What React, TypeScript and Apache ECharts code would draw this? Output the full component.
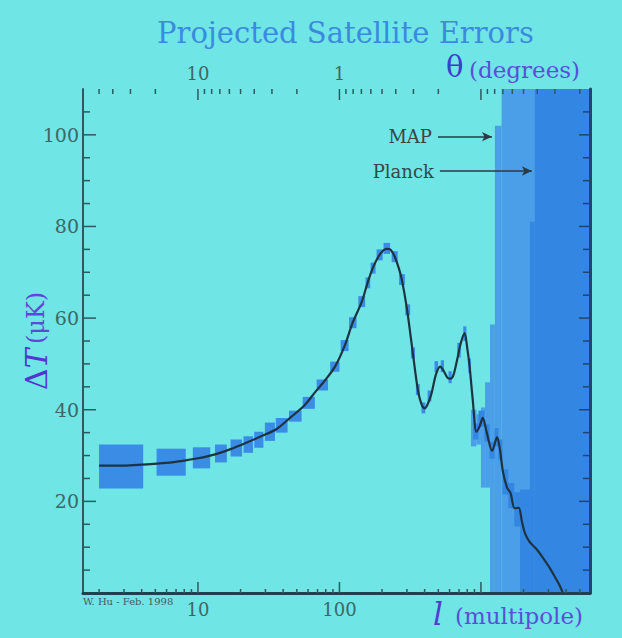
import React, { useEffect, useRef } from 'react';
import * as echarts from 'echarts';

const FONT = '"DejaVu Serif", serif';

// axis extents (multipole l on a log axis, ΔT in μK)
const X_MIN = 1.54;
const X_MAX = 5900;
const Y_MIN = 0;
const Y_MAX = 110;

// theoretical curve
const CURVE_L = [2, 3, 4, 6, 8, 10, 13, 17, 22, 28, 36, 45, 56, 68, 80, 93, 109, 124, 144, 158, 172, 190, 205, 216, 228, 246, 262, 276, 300, 330, 358, 380, 400, 420, 447, 480, 515, 545, 580, 610, 640, 680, 720, 767, 800, 832, 875, 930, 980, 1030, 1100, 1200, 1300, 1360, 1430, 1530, 1620, 1730, 1850, 1950, 2050, 2200, 2450, 2700, 2900, 3100, 3320, 3550, 3800];
const CURVE_T = [27.8, 27.8, 28.0, 28.4, 28.9, 29.4, 30.2, 31.4, 32.8, 34.2, 35.8, 38.3, 40.8, 44.0, 46.6, 49.4, 54.0, 59.0, 63.6, 67.7, 70.9, 73.6, 74.8, 75.1, 75.0, 73.4, 71.0, 68.4, 62.0, 52.4, 44.4, 41.2, 40.3, 41.2, 43.5, 47.6, 49.4, 48.5, 47.0, 46.8, 47.6, 51.0, 54.5, 56.7, 53.5, 49.4, 42.2, 35.2, 36.4, 38.2, 35.0, 31.0, 34.0, 31.5, 26.5, 23.0, 21.8, 18.5, 18.6, 15.5, 13.0, 11.2, 9.7, 8.0, 6.6, 5.2, 3.6, 2.0, 0];

// error boxes: [l start, l end, ΔT low, ΔT high]
const SHARED_BOXES = [
  [2, 4.1, 22.8, 32.4],
  [5.1, 8.2, 25.6, 31.5],
  [9.2, 12.2, 27.2, 31.8],
  [13.2, 16, 28.5, 32.4],
  [17, 20.5, 29.8, 33.5],
  [21, 24.5, 30.6, 34.2],
  [25, 29, 31.7, 35.2],
  [29.7, 35, 33.2, 37.2],
  [35.5, 43, 35.0, 38.2],
  [44, 54, 37.4, 39.8],
  [55, 67, 40.2, 42.8],
  [69, 83, 44.2, 46.6],
  [86, 100, 48.3, 50.5],
  [102, 116, 52.8, 55.2],
  [117, 132, 57.8, 60.2],
  [136, 152, 62.4, 64.8],
  [153, 165, 66.5, 68.9],
  [166, 180, 69.7, 72.1],
  [183, 202, 72.6, 75.0],
  [205, 228, 74.0, 76.4],
  [234, 258, 72.2, 74.6],
  [264, 290, 67.2, 69.6],
  [292, 316, 60.6, 63.0],
  [320, 342, 51.2, 53.6],
  [347, 370, 43.2, 45.6],
  [380, 404, 39.2, 41.6],
  [420, 446, 41.8, 44.2],
  [470, 498, 48.2, 50.6],
  [520, 548, 48.2, 50.8],
  [590, 622, 45.8, 48.4],
  [680, 720, 51.4, 54.6],
  [750, 790, 55.0, 58.2],
  [815, 850, 48.0, 51.2],
];
const MAP_BOXES = [
  [850, 930, 32.0, 40.0],
  [930, 1000, 32.4, 39.0],
  [1000, 1070, 23.0, 40.5],
  [1070, 1160, 23.0, 46.0],
  [1160, 1255, 0, 58.6],
  [1255, 1400, 0, 102],
  [1400, 6000, 0, 300],
];
const PLANCK_BOXES = [
  [880, 960, 33.5, 37.0],
  [960, 1060, 36.3, 39.8],
  [1060, 1150, 33.0, 36.8],
  [1150, 1250, 29.3, 33.0],
  [1250, 1330, 32.0, 36.0],
  [1330, 1420, 29.0, 33.5],
  [1420, 1560, 21.5, 27.0],
  [1560, 1720, 18.5, 24.0],
  [1720, 1890, 14.5, 22.0],
  [1890, 2220, 0, 22.6],
  [2220, 2400, 0, 81],
  [2400, 6000, 0, 300],
];

// arrows pointing at the MAP / Planck error regions
const ARROW_NAMES = ['MAP', 'Planck'];
const ARROW_FROM = [497, 513];
const ARROW_TO = [1197, 2290];
const ARROW_Y = [99.6, 92.1];

// ticks and labels
const L_TICKS = [2, 3, 4, 5, 6, 7, 8, 9, 10, 20, 30, 40, 50, 60, 70, 80, 90, 100, 200, 300, 400, 500, 600, 700, 800, 900, 1000, 2000, 3000, 4000, 5000];
const L_MAJOR = [10, 100, 1000];
const L_LABELS = [10, 100];
const THETA_TICKS = [50, 40, 30, 20, 10, 9, 8, 7, 6, 5, 4, 3, 2, 1, 0.9, 0.8, 0.7, 0.6, 0.5, 0.4, 0.3, 0.2, 0.1, 0.09, 0.08, 0.07, 0.06, 0.05, 0.04, 0.03, 0.02];
const THETA_MAJOR = [10, 1, 0.1];
const THETA_LABELS = [10, 1];
const Y_TICKS = [5, 10, 15, 20, 25, 30, 35, 40, 45, 50, 55, 60, 65, 70, 75, 80, 85, 90, 95, 100, 105];
const Y_MAJOR = [20, 40, 60, 80, 100];

const near = (a: number, b: number) => Math.abs(a / b - 1) < 1e-6;

function boxSeries(name: string, data: number[][], color: string, z: number) {
  return {
    type: 'custom',
    name,
    silent: true,
    clip: true,
    z,
    xAxisIndex: 0,
    yAxisIndex: 0,
    data,
    encode: { x: [0, 1], y: [2, 3] },
    renderItem: (params: any, api: any) => {
      const p1 = api.coord([api.value(0), api.value(2)]);
      const p2 = api.coord([api.value(1), api.value(3)]);
      return {
        type: 'rect',
        shape: { x: p1[0], y: p2[1], width: p2[0] - p1[0], height: p1[1] - p2[1] },
        style: { fill: color },
      };
    },
  };
}

function tickSeries(values: number[], majors: number[], side: string, majorLen: number, minorLen: number, color: string) {
  return {
    type: 'custom',
    silent: true,
    clip: false,
    z: 6,
    xAxisIndex: 0,
    yAxisIndex: 0,
    data: values.map((v) => [v, majors.some((m) => near(m, v)) ? 1 : 0]),
    renderItem: (params: any, api: any) => {
      const cs = params.coordSys;
      const v = api.value(0);
      const len = api.value(1) === 1 ? majorLen : minorLen;
      let shape;
      if (side === 'bottom') {
        const x = api.coord([v, Y_MIN])[0];
        const y = cs.y + cs.height;
        shape = { x1: x, y1: y, x2: x, y2: y - len };
      } else if (side === 'top') {
        const x = api.coord([100 / v, Y_MIN])[0];
        const y = cs.y;
        shape = { x1: x, y1: y, x2: x, y2: y + len };
      } else if (side === 'left') {
        const y = api.coord([10, v])[1];
        const x = cs.x;
        shape = { x1: x, y1: y, x2: x + len, y2: y };
      } else {
        const y = api.coord([10, v])[1];
        const x = cs.x + cs.width;
        shape = { x1: x, y1: y, x2: x - len, y2: y };
      }
      return { type: 'line', shape, style: { stroke: color, lineWidth: 1.5 } };
    },
  };
}

const tickLabelStyle = { color: '#3d6767', fontFamily: FONT, fontSize: 18 };

const option: any = {
  animation: false,
  backgroundColor: '#6fe5e6',
  title: {
    text: 'Projected Satellite Errors',
    left: 152,
    top: 13,
    textStyle: { fontFamily: FONT, fontSize: 29, fontWeight: 'normal', color: '#3a8bde' },
  },
  grid: { left: 83, right: 32, top: 89, bottom: 45, containLabel: false, outerBoundsMode: 'none' },
  xAxis: [
    {
      type: 'log',
      logBase: 10,
      min: X_MIN,
      max: X_MAX,
      position: 'bottom',
      z: 5,
      axisLine: { show: true, lineStyle: { color: '#29535a', width: 2 } },
      axisTick: { show: false },
      minorTick: { show: false },
      splitLine: { show: false },
      axisLabel: {
        ...tickLabelStyle,
        margin: 7,
        formatter: (v: number) => {
          const t = L_LABELS.find((x) => near(x, v));
          return t !== undefined ? String(t) : '';
        },
      },
    },
    {
      type: 'log',
      logBase: 10,
      min: X_MIN,
      max: X_MAX,
      position: 'top',
      z: 5,
      axisLine: { show: true, lineStyle: { color: '#1c4250', width: 3 } },
      axisTick: { show: false },
      minorTick: { show: false },
      splitLine: { show: false },
      axisLabel: {
        ...tickLabelStyle,
        margin: 7,
        formatter: (v: number) => {
          const t = THETA_LABELS.find((th) => near(100 / th, v));
          return t !== undefined ? String(t) : '';
        },
      },
    },
  ],
  yAxis: [
    {
      type: 'value',
      min: Y_MIN,
      max: Y_MAX,
      interval: 20,
      position: 'left',
      z: 5,
      axisLine: { show: true, lineStyle: { color: '#2d5a5e', width: 2 } },
      axisTick: { show: false },
      splitLine: { show: false },
      axisLabel: {
        ...tickLabelStyle,
        fontSize: 19,
        margin: 4,
        formatter: (v: number) => (Y_MAJOR.includes(v) ? String(v) : ''),
      },
      name: '{d|Δ}{t|T}{s| }{u|(μK)}',
      nameLocation: 'middle',
      nameRotate: 90,
      nameGap: 32,
      nameMoveOverlap: false,
      nameTextStyle: {
        fontFamily: FONT,
        fontSize: 24,
        color: '#5a3ed6',
        rich: {
          d: { fontFamily: FONT, fontSize: 30, color: '#5236d2' },
          t: { fontFamily: FONT, fontSize: 30, fontStyle: 'italic', color: '#5236d2' },
          s: { fontFamily: FONT, fontSize: 14 },
          u: { fontFamily: FONT, fontSize: 24, color: '#5f47d8' },
        },
      },
    },
    {
      type: 'value',
      min: Y_MIN,
      max: Y_MAX,
      interval: 20,
      position: 'right',
      z: 5,
      axisLine: { show: true, lineStyle: { color: '#1e4874', width: 3 } },
      axisTick: { show: false },
      splitLine: { show: false },
      axisLabel: { show: false },
    },
  ],
  series: [
    boxSeries('MAP', MAP_BOXES, '#4b9fe9', 1),
    boxSeries('Planck', PLANCK_BOXES, '#3486e3', 2),
    boxSeries('Both', SHARED_BOXES, '#3a8ce5', 2),
    {
      type: 'line',
      name: 'Theory',
      xAxisIndex: 0,
      yAxisIndex: 0,
      z: 3,
      data: CURVE_L.map((l, i) => [l, CURVE_T[i]]),
      smooth: 0.3,
      showSymbol: false,
      symbol: 'none',
      clip: true,
      silent: true,
      lineStyle: { color: '#1d3440', width: 2.2 },
      markLine: {
        silent: true,
        symbol: ['none', 'arrow'],
        symbolSize: [7, 10],
        lineStyle: { color: '#2a3a46', width: 1.5, type: 'solid' },
        label: {
          show: true,
          position: 'start',
          formatter: '{b}',
          distance: 6,
          color: '#364646',
          fontFamily: FONT,
          fontSize: 18,
        },
        emphasis: { disabled: true },
        data: ARROW_NAMES.map((n, i) => [
          { name: n, coord: [ARROW_FROM[i], ARROW_Y[i]] },
          { coord: [ARROW_TO[i], ARROW_Y[i]] },
        ]),
      },
    },
    tickSeries(L_TICKS, L_MAJOR, 'bottom', 11, 4, '#2d5a5e'),
    tickSeries(THETA_TICKS, THETA_MAJOR, 'top', 11, 5, '#2d5a5e'),
    tickSeries(Y_TICKS, Y_MAJOR, 'left', 13, 7, '#2d5a5e'),
    tickSeries(Y_TICKS, Y_MAJOR, 'right', 11, 7, '#22466a'),
  ],
  graphic: [
    {
      type: 'text',
      x: 446,
      y: 67,
      silent: true,
      style: { text: 'θ', fontFamily: FONT, fontSize: 29, fill: '#3c3ccf', align: 'left', verticalAlign: 'middle' },
    },
    {
      type: 'text',
      x: 469,
      y: 70,
      silent: true,
      style: { text: '(degrees)', fontFamily: FONT, fontSize: 23, fill: '#5a4fd6', align: 'left', verticalAlign: 'middle' },
    },
    {
      type: 'text',
      x: 433,
      y: 614,
      silent: true,
      style: { text: 'l', fontFamily: FONT, fontSize: 31, fontStyle: 'italic', fill: '#5040d0', align: 'left', verticalAlign: 'middle' },
    },
    {
      type: 'text',
      x: 455,
      y: 616,
      silent: true,
      style: { text: '(multipole)', fontFamily: FONT, fontSize: 23, fill: '#5a4fd6', align: 'left', verticalAlign: 'middle' },
    },
    {
      type: 'text',
      x: 83,
      y: 601,
      silent: true,
      style: { text: 'W. Hu - Feb. 1998', fontFamily: FONT, fontSize: 10, fill: '#3f5e5e', align: 'left', verticalAlign: 'middle' },
    },
  ],
};

export default function App() {
  const ref = useRef<HTMLDivElement>(null);
  useEffect(() => {
    const chart = echarts.init(ref.current as HTMLDivElement, undefined, { renderer: 'svg' });
    chart.setOption(option);
    return () => chart.dispose();
  }, []);
  return <div ref={ref} style={{ position: 'fixed', left: 0, top: 0, width: 622, height: 638 }} />;
}
